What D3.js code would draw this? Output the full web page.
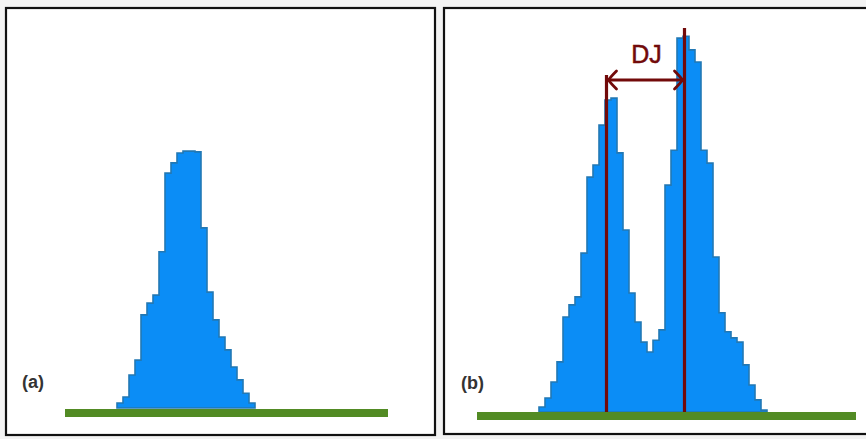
<!DOCTYPE html>
<html>
<head>
<meta charset="utf-8">
<script src="https://cdn.jsdelivr.net/npm/d3@7"></script>
<style>
  body { margin: 0; background: #f3f3f3; }
  svg { display: block; }
</style>
</head>
<body>
<div id="chart"></div>
<script>
// bar heights (relative units, 0-100)
const countsA = [1.3, 2.9, 8.7, 12.6, 24.5, 27.6, 29.7, 41.1, 61.8, 64.5, 67.1, 67.6,
                 67.6, 67.4, 47.4, 30.5, 23.2, 18.7, 15.3, 10.8, 7.4, 3.9, 1.3];
const countsB = [1.3, 3.7, 7.9, 13.2, 25.0, 28.2, 30.3, 41.8, 61.8, 65.0, 75.5, 82.1,
                 82.6, 68.2, 47.9, 31.3, 23.7, 18.4, 15.8, 18.9, 21.6, 59.7, 68.9, 98.4,
                 98.9, 95.3, 92.1, 68.9, 65.5, 40.8, 26.1, 21.1, 19.5, 18.4, 12.4, 7.1, 3.2, 0.5];
// bin positions of the two peak markers in panel (b)
const peakMarks = [11.25, 24.25];
const panelLabels = ["(a)", "(b)"];
const distLabel = "DJ";

const width = 866;
const height = 439;
const blue = "#0b8df6";
const blueEdge = "#2278b4";
const green = "#528b24";
const red = "#720a0a";

const svg = d3.select("#chart")
  .append("svg")
  .attr("width", width)
  .attr("height", height);

// panel frames
const panels = [
  { x: 6, y: 8, w: 429, h: 427 },
  { x: 444, y: 8, w: 430, h: 426 }
];
svg.selectAll("rect.frame")
  .data(panels)
  .enter().append("rect")
  .attr("class", "frame")
  .attr("x", d => d.x)
  .attr("y", d => d.y)
  .attr("width", d => d.w)
  .attr("height", d => d.h)
  .attr("fill", "white")
  .attr("stroke", "#111")
  .attr("stroke-width", 2.2);

function drawHist(counts, xRange, base, groundX, groundY) {
  const x = d3.scaleLinear().domain([0, counts.length]).range(xRange);
  const y = d3.scaleLinear().domain([0, 100]).range([base, base - 380]);

  const g = svg.append("g");
  const pts = counts.map((v, i) => [i, v]).concat([[counts.length, counts[counts.length - 1]]]);

  const area = d3.area()
    .x(d => x(d[0]))
    .y0(y(0))
    .y1(d => y(d[1]))
    .curve(d3.curveStepAfter);

  g.append("path")
    .attr("d", area(pts))
    .attr("fill", blue)
    .attr("stroke", blueEdge)
    .attr("stroke-width", 1.6);

  // ground line
  g.append("line")
    .attr("x1", groundX[0])
    .attr("x2", groundX[1])
    .attr("y1", groundY)
    .attr("y2", groundY)
    .attr("stroke", green)
    .attr("stroke-width", 8);

  return { x, y };
}

const sa = drawHist(countsA, [117, 255], 408, [65, 388], 413);
const sb = drawHist(countsB, [539, 767], 412, [477, 856], 416);

// peak markers
const mLeft = sb.x(peakMarks[0]);
const mRight = sb.x(peakMarks[1]);
const arrowY = 80;

svg.append("line")
  .attr("x1", mLeft).attr("x2", mLeft)
  .attr("y1", 75).attr("y2", sb.y(0))
  .attr("stroke", red).attr("stroke-width", 3.2);
svg.append("line")
  .attr("x1", mRight).attr("x2", mRight)
  .attr("y1", 28).attr("y2", sb.y(0))
  .attr("stroke", red).attr("stroke-width", 3.2);

svg.append("line")
  .attr("x1", mLeft + 1).attr("x2", mRight - 1)
  .attr("y1", arrowY).attr("y2", arrowY)
  .attr("stroke", red).attr("stroke-width", 3);

svg.append("path")
  .attr("d", `M${mLeft + 10},${arrowY - 9} Q${mLeft + 4},${arrowY - 3} ${mLeft + 2},${arrowY} Q${mLeft + 4},${arrowY + 3} ${mLeft + 10},${arrowY + 9}`)
  .attr("fill", "none").attr("stroke", red).attr("stroke-width", 2.8)
  .attr("stroke-linecap", "round");
svg.append("path")
  .attr("d", `M${mRight - 10},${arrowY - 9} Q${mRight - 4},${arrowY - 3} ${mRight - 2},${arrowY} Q${mRight - 4},${arrowY + 3} ${mRight - 10},${arrowY + 9}`)
  .attr("fill", "none").attr("stroke", red).attr("stroke-width", 2.8)
  .attr("stroke-linecap", "round");

svg.append("text")
  .attr("x", (mLeft + mRight) / 2 + 1)
  .attr("y", 63)
  .attr("text-anchor", "middle")
  .attr("font-family", "Liberation Sans, Arial, sans-serif")
  .attr("font-size", 25)
  .attr("stroke", red)
  .attr("stroke-width", 0.5)
  .attr("fill", red)
  .text(distLabel);

// panel labels
svg.selectAll("text.plabel")
  .data(panelLabels)
  .enter().append("text")
  .attr("class", "plabel")
  .attr("x", (d, i) => i === 0 ? 22 : 461)
  .attr("y", (d, i) => i === 0 ? 388 : 389)
  .attr("font-family", "Liberation Sans, Arial, sans-serif")
  .attr("font-weight", "bold")
  .attr("font-size", 18)
  .attr("fill", "#333")
  .text(d => d);
</script>
</body>
</html>
